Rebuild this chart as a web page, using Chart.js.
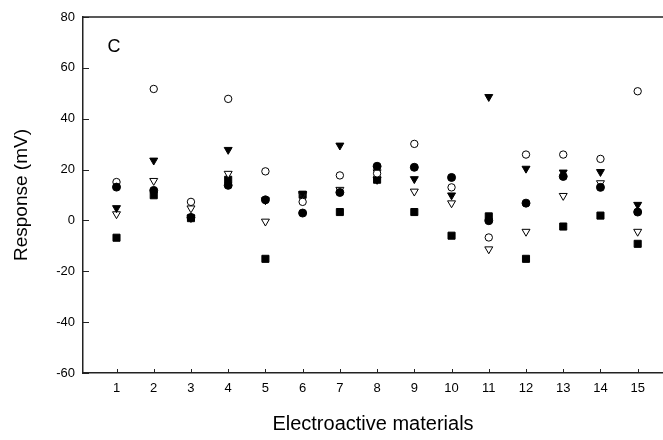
<!DOCTYPE html>
<html>
<head>
<meta charset="utf-8">
<script src="https://cdn.jsdelivr.net/npm/chart.js@4/dist/chart.umd.min.js"></script>
<style>
  html, body { margin: 0; padding: 0; background: #fff; overflow: hidden; }
  /* canvas is a few px wider than the window so the frame runs off the right edge like the original */
  #wrap { width: 669px; height: 440px; }
</style>
</head>
<body>
<div id="wrap"><canvas id="chart" width="669" height="440"></canvas></div>
<script>
// Data
const materials = [1, 2, 3, 4, 5, 6, 7, 8, 9, 10, 11, 12, 13, 14, 15];
const filledCircle = [13.1, 11.8, 1.2, 13.8, 8.1, 2.9, 11.0, 21.3, 20.9, 16.9, -0.1, 6.8, 17.3, 13.0, 3.3];
const openCircle   = [15.1, 51.7, 7.3, 47.8, 19.3, 7.3, 17.7, 18.5, 30.1, 13.0, -6.7, 25.9, 25.9, 24.2, 50.8];
const filledTri    = [4.9, 23.6, 1.0, 27.8, 8.0, 10.5, 29.5, 16.0, 16.3, 9.9, 48.6, 20.4, 18.9, 19.1, 6.2];
const openTri      = [2.5, 15.6, 4.8, 18.4, -0.4, 10.0, 12.1, 19.0, 11.4, 6.8, -11.3, -4.4, 9.7, 14.7, -4.4];
const filledSquare = [-6.8, 9.9, 0.9, 16.0, -15.1, 10.1, 3.3, 16.0, 3.3, -6.0, 1.6, -15.1, -2.4, 1.9, -9.2];
const yTicks = [-60, -40, -20, 0, 20, 40, 60, 80];

const FONT = '"Liberation Sans", Arial, sans-serif';

function points(values) {
    return materials.map((m, i) => ({ x: m, y: values[i] }));
}

function series(values, style, filled, radius, rotation) {
    return {
        data: points(values),
        pointStyle: style,
        pointRadius: radius,
        pointHoverRadius: radius,
        pointRotation: rotation || 0,
        pointBackgroundColor: filled ? '#000' : '#fff',
        pointBorderColor: '#000',
        pointBorderWidth: 1,
        showLine: false
    };
}

// Inner tick marks, top frame line and panel letter
const framePlugin = {
    id: 'frame',
    afterDraw(chart) {
        const ctx = chart.ctx;
        const area = chart.chartArea;
        const xs = chart.scales.x;
        const ys = chart.scales.y;
        ctx.save();
        ctx.strokeStyle = '#222';
        ctx.lineWidth = 1;
        xs.ticks.forEach(t => {
            const px = Math.round(xs.getPixelForValue(t.value)) + 0.5;
            ctx.beginPath();
            ctx.moveTo(px, area.bottom);
            ctx.lineTo(px, area.bottom - 4);
            ctx.stroke();
        });
        ys.ticks.forEach(t => {
            const py = Math.round(ys.getPixelForValue(t.value)) + 0.5;
            ctx.beginPath();
            ctx.moveTo(area.left, py);
            ctx.lineTo(area.left + 6, py);
            ctx.stroke();
        });
        ctx.lineWidth = 1.5;
        ctx.beginPath();
        ctx.moveTo(area.left, area.top);
        ctx.lineTo(area.right, area.top);
        ctx.stroke();

        ctx.fillStyle = '#000';
        ctx.font = '18px ' + FONT;
        ctx.textAlign = 'center';
        ctx.textBaseline = 'middle';
        ctx.fillText('C', area.left + 31, area.top + 30);
        ctx.restore();
    }
};

const chart = new Chart(document.getElementById('chart'), {
    type: 'scatter',
    data: {
        datasets: [
            series(filledCircle, 'circle', true, 4),
            series(openCircle, 'circle', false, 3.7),
            series(filledTri, 'triangle', true, 4.6, 180),
            series(openTri, 'triangle', false, 4.6, 180),
            series(filledSquare, 'rect', true, 5)
        ]
    },
    options: {
        responsive: false,
        animation: false,
        devicePixelRatio: 1,
        layout: { padding: { top: 17, right: 0, bottom: 0, left: 0 } },
        plugins: {
            legend: { display: false },
            tooltip: { enabled: false }
        },
        scales: {
            x: {
                type: 'linear',
                min: 0.1,
                max: 15.68,
                afterBuildTicks: scale => { scale.ticks = materials.map(v => ({ value: v })); },
                afterFit: scale => {
                    scale.height = 67;
                    scale.paddingLeft = 0;
                    scale.paddingRight = 0;
                },
                grid: { display: false, drawTicks: false },
                border: { display: true, color: '#222', width: 1.5 },
                ticks: {
                    color: '#000',
                    padding: 8,
                    maxRotation: 0,
                    font: { family: FONT, size: 13 }
                },
                title: {
                    display: true,
                    text: 'Electroactive materials',
                    color: '#000',
                    font: { family: FONT, size: 20 },
                    padding: { top: 0, bottom: 4 }
                }
            },
            y: {
                min: -60,
                max: 80,
                afterBuildTicks: scale => { scale.ticks = yTicks.map(v => ({ value: v })); },
                afterFit: scale => { scale.width = 83; },
                grid: { display: false, drawTicks: false },
                border: { display: true, color: '#222', width: 1.5 },
                ticks: {
                    color: '#000',
                    padding: 8,
                    font: { family: FONT, size: 13 }
                },
                title: {
                    display: true,
                    text: 'Response (mV)',
                    color: '#000',
                    font: { family: FONT, size: 19 },
                    padding: { top: 10, bottom: 0 }
                }
            }
        }
    },
    plugins: [framePlugin]
});
</script>
</body>
</html>
